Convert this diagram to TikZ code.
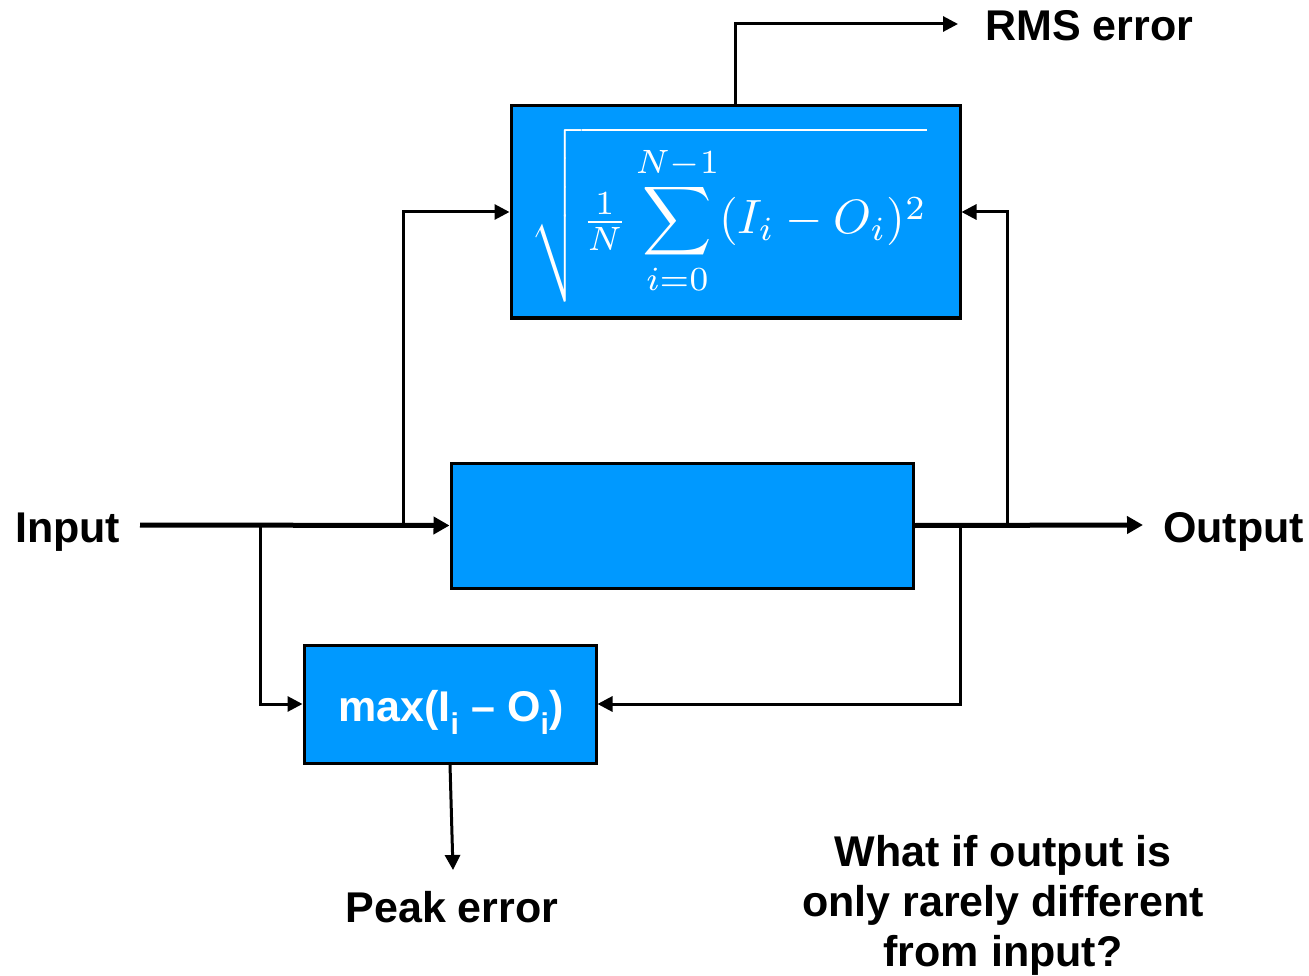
\documentclass[tikz,border=0pt]{standalone}
\usepackage{amsmath}
\usepackage[no-math]{fontspec}
\setmainfont{Liberation Sans}
\usetikzlibrary{arrows.meta}
\definecolor{boxblue}{RGB}{0,153,255}
\tikzset{
  blk/.style={draw=black, line width=3pt, fill=boxblue, inner sep=0pt, text=white},
  conn/.style={line width=3pt, -{Triangle[length=15pt,width=15pt]}},
  mainconn/.style={line width=5pt, -{Triangle[length=16pt,width=17pt]}},
  lbl/.style={font=\fontsize{43}{50}\selectfont\bfseries, inner sep=0pt}
}
\begin{document}
\begin{tikzpicture}[x=1pt,y=-1pt]
\useasboundingbox (0,0) rectangle (1309,976);
% boxes
\node[blk, minimum width=449pt, minimum height=212pt] (rms) at (735.5,212) {};
\node[text=white, inner sep=0pt] (formula) at (729,215)
  {\resizebox{396pt}{!}{$\displaystyle\sqrt{\tfrac{1}{N}\sum_{i=0}^{N-1}(I_i-O_i)^2}$}};
\node[blk, minimum width=462pt, minimum height=125pt] (mid) at (682,525.5) {};
\node[blk, minimum width=292pt, minimum height=118pt] (peak) at (450,704) {};
\node[lbl, text=white, anchor=base] (peaktext) at (451,721)
  {max(I\textsubscript{i} -- O\textsubscript{i})};
% coordinates
\coordinate (inL) at (140,525);
\coordinate (b1) at (403,525);
\coordinate (b2) at (260,525);
\coordinate (outR) at (1143,525);
\coordinate (b3) at (1007,525);
\coordinate (b4) at (960,525);
\coordinate (rmsend) at (958,24);
\coordinate (peakend) at (453,870);
% connectors
\draw[mainconn] (inL) -- (mid.west);
\draw[mainconn] (mid.east) -- (outR);
\draw[conn] (b1) |- (rms.west);
\draw[conn] (b2) |- (peak.west);
\draw[conn] (b3) |- (rms.east);
\draw[conn] (b4) |- (peak.east);
\draw[conn] (rms.north) |- (rmsend);
\draw[conn] (peak.south) -- (peakend);
% labels
\node[lbl, anchor=base west] (tin) at (15,542) {Input};
\node[lbl, anchor=base west] (tout) at (1163,542) {Output};
\node[lbl, anchor=base west] (trms) at (985,41) {RMS error};
\node[lbl, anchor=base] (tpeak) at (452,922) {Peak error};
\node[lbl, anchor=base, align=center] (tq) at (1003,966)
  {What if output is\\only rarely different\\from input?};
\end{tikzpicture}
\end{document}
